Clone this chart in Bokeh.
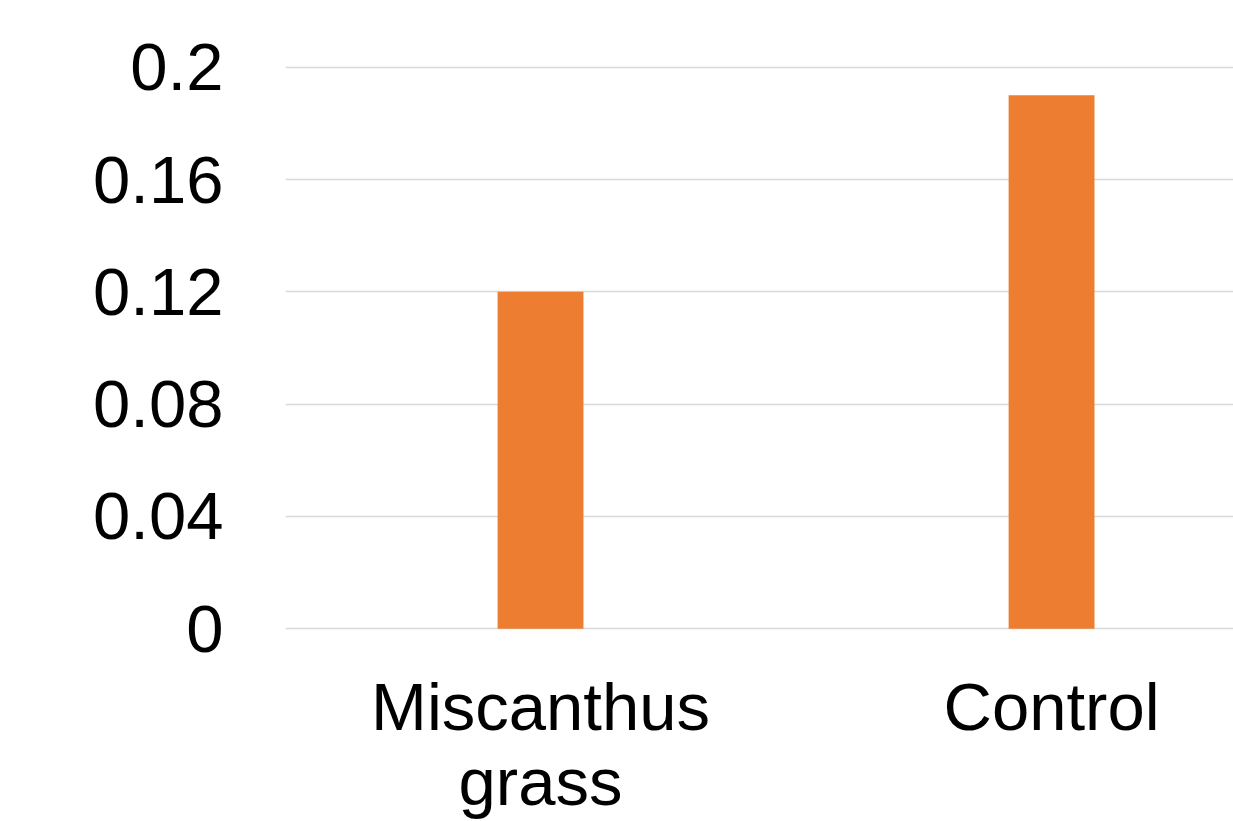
from bokeh.plotting import figure
from bokeh.models import Range1d, FixedTicker
from bokeh.embed import file_html
from bokeh.resources import INLINE

categories = ["Miscanthus\ngrass", "Control"]
values = [0.12, 0.19]
y_ticks = [0, 0.04, 0.08, 0.12, 0.16, 0.2]
y_tick_labels = ["0", "0.04", "0.08", "0.12", "0.16", "0.2"]

xs = list(range(len(categories)))

p = figure(width=1233, height=821, output_backend="svg", toolbar_location=None,
           x_range=Range1d(-0.499, 1.356), y_range=Range1d(-0.0006, 0.2006),
           min_border_left=285, min_border_right=0, min_border_top=65, min_border_bottom=150)

p.vbar(x=xs, top=values, width=0.168, bottom=0, color="#ED7D31", line_color=None)

p.outline_line_color = None
p.background_fill_color = "white"
p.border_fill_color = "white"

p.xgrid.grid_line_color = None
p.ygrid.grid_line_color = "#D9D9D9"
p.ygrid.grid_line_width = 1.5

p.yaxis.ticker = FixedTicker(ticks=y_ticks)
p.yaxis.major_label_overrides = {t: l for t, l in zip(y_ticks, y_tick_labels)}
p.xaxis.ticker = FixedTicker(ticks=xs)
p.xaxis.major_label_overrides = {x: c for x, c in zip(xs, categories)}

for ax in (p.xaxis, p.yaxis):
    ax.axis_line_color = None
    ax.major_tick_line_color = None
    ax.minor_tick_line_color = None
    ax.major_tick_out = 0
    ax.minor_tick_out = 0
    ax.major_label_text_font = "Liberation Sans"
    ax.major_label_text_font_size = "67px"
    ax.major_label_text_color = "black"

p.yaxis.major_label_standoff = 62
p.xaxis.major_label_standoff = 38
p.xaxis.major_label_text_line_height = 1.0

open("out.html", "w").write(file_html(p, INLINE))
